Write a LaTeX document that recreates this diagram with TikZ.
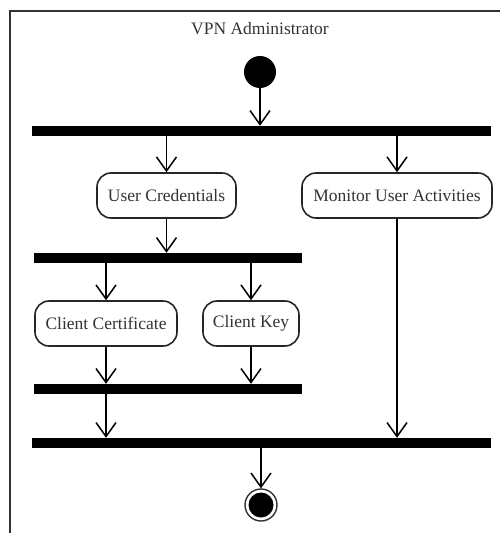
\documentclass[tikz,border=0pt]{standalone}
\usepackage{fontspec}
\setmainfont{Liberation Serif}
\usetikzlibrary{arrows.meta}
\begin{document}
\begin{tikzpicture}[x=1pt,y=-1pt,
  txt/.style={font=\fontsize{17.5}{20}\selectfont, text=black!80},
  act/.style={txt, draw=black!85, rounded corners=14pt, line width=1.6pt, minimum height=45pt, inner sep=0pt},
  bar/.style={fill=black, inner sep=0pt, minimum height=10pt},
  flow/.style={line width=1.5pt, -{Straight Barb[length=14pt,width=20pt,line width=1.5pt]}},
  frameline/.style={draw=black!80, line width=1.6pt}]
\useasboundingbox (0,0) rectangle (500,533);
\draw[frameline] (10,533) -- (10,11) -- (500,11);
\node[txt] (title) at (260,29) {VPN Administrator};
\node[circle, fill=black, minimum size=32pt, inner sep=0pt] (start) at (260,72) {};
\node[bar, minimum width=459pt] (b1) at (261.5,131) {};
\node[act, minimum width=139pt] (uc) at (166.5,195.5) {User Credentials};
\node[act, minimum width=190pt] (mon) at (397,195.5) {Monitor User Activities};
\node[bar, minimum width=268pt] (b2) at (168,258) {};
\node[act, minimum width=142pt] (cc) at (106,323.5) {Client Certificate};
\node[act, minimum width=96pt] (ck) at (251,323.5) {Client Key};
\node[bar, minimum width=268pt] (b3) at (168,389) {};
\node[bar, minimum width=459pt] (b4) at (261.5,443) {};
\node[circle, draw=black!80, line width=1.4pt, minimum size=32pt, inner sep=0pt] (end) at (261,505) {};
\fill[black] (end.center) circle (12.5pt);
\draw[flow] (start) -- (start |- b1.north);
\draw[flow] (b1.south -| uc) -- (uc.north);
\draw[flow] (b1.south -| mon) -- (mon.north);
\draw[flow] (uc.south) -- (uc.south |- b2.north);
\draw[flow] (b2.south -| cc) -- (cc.north);
\draw[flow] (b2.south -| ck) -- (ck.north);
\draw[flow] (cc.south) -- (cc.south |- b3.north);
\draw[flow] (ck.south) -- (ck.south |- b3.north);
\draw[flow] (b3.south -| cc) -- (cc |- b4.north);
\draw[flow] (mon.south) -- (mon.south |- b4.north);
\draw[flow] (b4.south -| end) -- (end.north);
\end{tikzpicture}
\end{document}
